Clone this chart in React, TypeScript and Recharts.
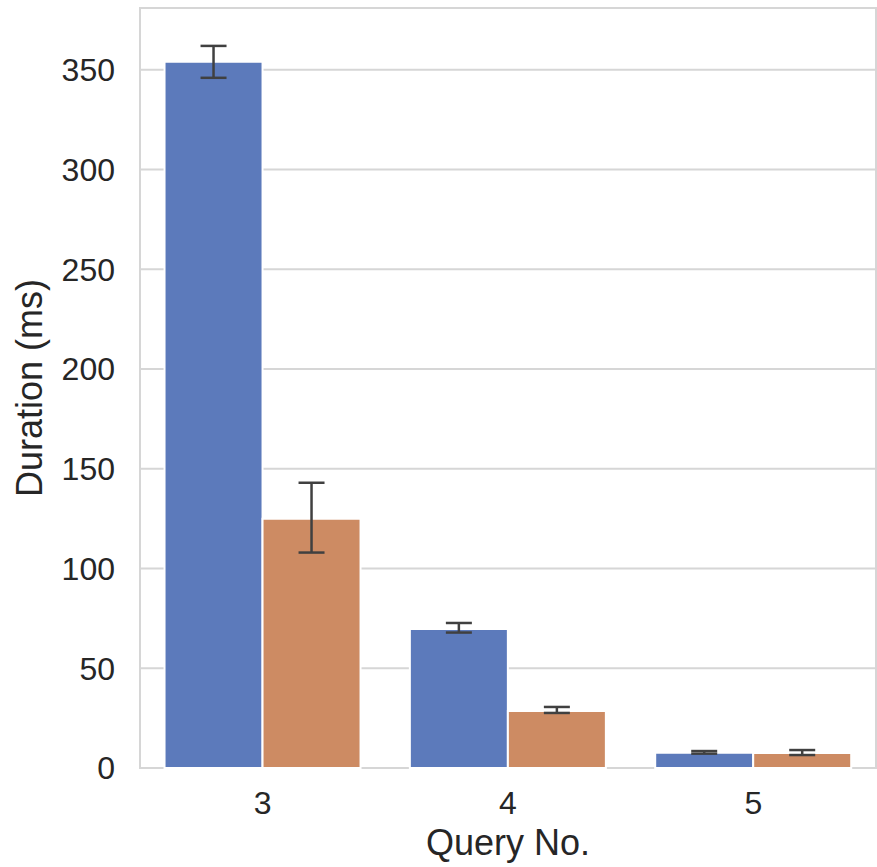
import { BarChart, Bar, XAxis, YAxis, CartesianGrid, ErrorBar, ReferenceArea } from "recharts";

const queries = ["3", "4", "5"];
const blueValues = [354, 69.7, 7.7];
const blueErrors: [number, number][] = [[8, 8], [1.8, 3], [0.5, 0.8]];
const orangeValues = [125, 28.6, 7.5];
const orangeErrors: [number, number][] = [[17, 18], [1, 2], [1, 1.5]];
const yTicks = [0, 50, 100, 150, 200, 250, 300, 350];

const data = queries.map((q, i) => ({
  query: q,
  blue: blueValues[i],
  blueErr: blueErrors[i],
  orange: orangeValues[i],
  orangeErr: orangeErrors[i],
}));

const FONT = "'Liberation Sans', Arial, sans-serif";
const TEXT = "#262626";
const GRID = "#d6d6d6";

export default function App() {
  return (
    <div style={{ position: "absolute", left: 0, top: 0, background: "#fff" }}>
      <BarChart
        width={877}
        height={867}
        data={data}
        margin={{ top: 8, right: 1, left: 0, bottom: 0 }}
        barCategoryGap="10%"
        barGap={0}
        style={{ fontFamily: FONT }}
      >
        <CartesianGrid vertical={false} stroke={GRID} strokeWidth={2} />
        <ReferenceArea y1={0} y2={381} fill="none" stroke={GRID} strokeWidth={2} ifOverflow="visible" />
        <XAxis
          dataKey="query"
          height={99}
          axisLine={false}
          tickLine={false}
          tickSize={0}
          tickMargin={23}
          tick={{ fontSize: 32, fill: TEXT, fontFamily: FONT }}
          label={{ value: "Query No.", position: "insideBottom", offset: 12, fontSize: 36, fill: TEXT, fontFamily: FONT }}
        />
        <YAxis
          width={140}
          domain={[0, 381]}
          ticks={yTicks}
          axisLine={false}
          tickLine={false}
          tickSize={0}
          tickMargin={25}
          tick={{ fontSize: 32, fill: TEXT, fontFamily: FONT }}
          label={{
            value: "Duration (ms)",
            angle: -90,
            position: "insideLeft",
            offset: 29,
            fontSize: 36,
            fill: TEXT,
            fontFamily: FONT,
            style: { textAnchor: "middle" },
          }}
        />
        <Bar dataKey="blue" fill="#5c7abb" stroke="#fff" strokeWidth={2} isAnimationActive={false}>
          <ErrorBar dataKey="blueErr" width={13} stroke="#404040" strokeWidth={2.5} />
        </Bar>
        <Bar dataKey="orange" fill="#cd8b63" stroke="#fff" strokeWidth={2} isAnimationActive={false}>
          <ErrorBar dataKey="orangeErr" width={13} stroke="#404040" strokeWidth={2.5} />
        </Bar>
      </BarChart>
    </div>
  );
}
